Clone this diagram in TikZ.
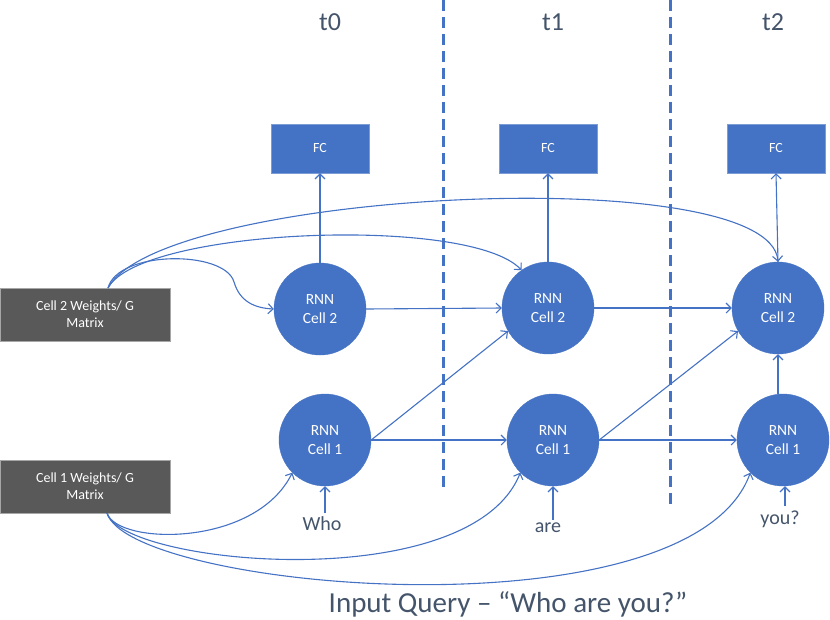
\documentclass[tikz,border=0pt]{standalone}
\usepackage{fontspec}
\setmainfont{Carlito}
\usetikzlibrary{arrows.meta}
\definecolor{cblue}{HTML}{4472C4}
\definecolor{cgray}{HTML}{595959}
\definecolor{ctext}{HTML}{44546A}
\tikzset{
  rnn/.style={circle,fill=cblue,draw=cblue,minimum size=92pt,inner sep=0pt,text=white,align=center,font=\fontsize{15.5}{19}\selectfont},
  fcbox/.style={rectangle,fill=cblue,draw=cblue!70!white,minimum width=98pt,minimum height=49pt,text=white,font=\fontsize{14}{16}\selectfont},
  wbox/.style={rectangle,fill=cgray,draw=gray!70,minimum width=170pt,minimum height=53pt,text=white,align=center,font=\fontsize{14}{17}\selectfont},
  conn/.style={draw=cblue,line width=1.1pt,-{Straight Barb[length=5pt,width=10pt]}},
  divider/.style={draw=cblue,line width=3pt,dash pattern=on 11pt off 6pt},
  tlabel/.style={text=ctext,font=\fontsize{26}{30}\selectfont},
  wlabel/.style={text=ctext,font=\fontsize{20}{24}\selectfont},
}
\begin{document}
\begin{tikzpicture}[x=1pt,y=-1pt]
\useasboundingbox (0,0) rectangle (830,619);
% dividers
\coordinate (d1a) at (443,0); \coordinate (d1b) at (443,493);
\coordinate (d2a) at (670,0); \coordinate (d2b) at (670,508);
\draw[divider] (d1a) -- (d1b);
\draw[divider] (d2a) -- (d2b);
% time labels
\node[tlabel] (t0) at (330,22) {t0};
\node[tlabel] (t1) at (553,22) {t1};
\node[tlabel] (t2) at (773,22) {t2};
% FC boxes
\node[fcbox] (fc0) at (320,148.5) {FC};
\node[fcbox] (fc1) at (548,148.5) {FC};
\node[fcbox] (fc2) at (776,148.5) {FC};
% cells
\node[rnn] (c20) at (320,309) {RNN\\Cell 2};
\node[rnn] (c21) at (548,308) {RNN\\Cell 2};
\node[rnn] (c22) at (778,308) {RNN\\Cell 2};
\node[rnn] (c10) at (325,440) {RNN\\Cell 1};
\node[rnn] (c11) at (553,440) {RNN\\Cell 1};
\node[rnn] (c12) at (783,440) {RNN\\Cell 1};
% weight boxes
\node[wbox] (w2) at (85,314.5) {Cell 2 Weights/ G\\Matrix};
\node[wbox] (w1) at (85,486.5) {Cell 1 Weights/ G\\Matrix};
% words
\node[wlabel] (who) at (322,524) {Who};
\node[wlabel] (are) at (548,528) {are};
\node[wlabel] (you) at (780,519) {you?};
\node[text=ctext,font=\fontsize{29}{33}\selectfont] (query) at (508,604) {Input Query – “Who are you?”};
% word inputs
\draw[conn] (who.north -| c10) -- (c10.south);
\draw[conn] (are.north -| c11) -- (c11.south);
\coordinate (youtop) at (785,506);
\draw[conn] (youtop) -- (c12.south -| youtop);
% cell to FC
\draw[conn] (c20.north) -- (fc0.south);
\draw[conn] (c21.north) -- (fc1.south);
\draw[conn] (c22.north) -- (fc2.south);
% recurrent
\draw[conn] (c20.east) -- (c21.west);
\draw[conn] (c21.east) -- (c22.west);
\draw[conn] (c10.east) -- (c11.west);
\draw[conn] (c11.east) -- (c12.west);
\draw[conn] (c10.east) -- (c21.210);
\draw[conn] (c11.east) -- (c22.210);
\draw[conn] (c12.north -| c22) -- (c22.south);
% weight curves top
\coordinate (w2s) at (108,288);
\draw[conn] (w2s) .. controls (118,250) and (225,250) .. (234,282) .. controls (240,302) and (255,308) .. (c20.west);
\draw[conn] (w2s) .. controls (140,228) and (470,215) .. (c21.125);
\draw[conn] (w2s) .. controls (160,190) and (770,160) .. (c22.north);
% weight curves bottom
\coordinate (w1s) at (107,513);
\draw[conn] (w1s) .. controls (117,545) and (255,548) .. (c10.225);
\draw[conn] (w1s) .. controls (122,565) and (470,598) .. (c11.225);
\draw[conn] (w1s) .. controls (130,590) and (690,640) .. (c12.225);
\end{tikzpicture}
\end{document}
